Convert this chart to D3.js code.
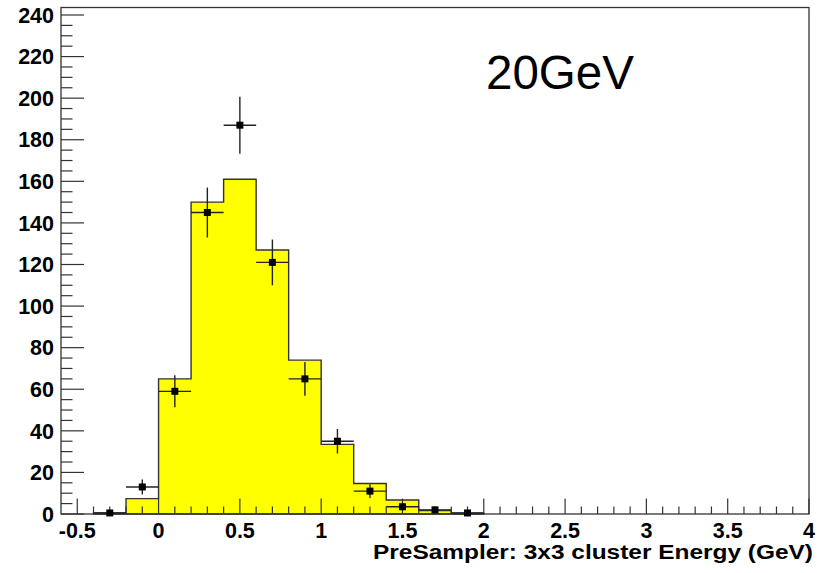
<!DOCTYPE html>
<html>
<head>
<meta charset="utf-8">
<script src="https://cdn.jsdelivr.net/npm/d3@7"></script>
<style>
    body { margin: 0; background: #fff; }
    text { font-family: "Liberation Sans", Arial, sans-serif; }
</style>
</head>
<body>
<div id="chart-area"></div>
<script>
const WIDTH = 830;
const HEIGHT = 573;

// bin lower edges (bin width 0.2 GeV)
const BIN_LOW = [-0.4, -0.2, 0.0, 0.2, 0.4, 0.6, 0.8, 1.0, 1.2, 1.4, 1.6, 1.8];
const BIN_WIDTH = 0.2;
// yellow histogram (simulation)
const MC_COUNTS = [0.5, 7.4, 65, 150, 161, 127, 74, 33.5, 14.7, 6.7, 1.7, 0.4];
// black points with error bars (data)
const DATA_COUNTS = [0.5, 13, 59, 145, 187, 121, 65, 35, 11, 3.5, 2, 0.5];
const DATA_ERRORS = [0, 3.6, 7.7, 12, 13.7, 11, 8.1, 5.9, 3.3, 1.9, 1.4, 0];

const X_TICKS = [-0.5, 0, 0.5, 1, 1.5, 2, 2.5, 3, 3.5, 4];
const X_TICK_LABELS = ["-0.5", "0", "0.5", "1", "1.5", "2", "2.5", "3", "3.5", "4"];
const Y_TICKS = [0, 20, 40, 60, 80, 100, 120, 140, 160, 180, 200, 220, 240];

const X_TITLE = "PreSampler: 3x3 cluster Energy (GeV)";
const LABEL = "20GeV";

const margin = {left: 61, right: 21, top: 7.5, bottom: 59};

let svg = d3.select("#chart-area")
    .append("svg")
    .attr("width", WIDTH)
    .attr("height", HEIGHT);

let x = d3.scaleLinear()
    .domain([-0.6, 4])
    .range([margin.left, WIDTH - margin.right]);

let y = d3.scaleLinear()
    .domain([0, 243.6])
    .range([HEIGHT - margin.bottom, margin.top]);

const LINE = "#333";

// histogram as a step outline
let histData = BIN_LOW.map((lo, i) => ({lo: lo, hi: lo + BIN_WIDTH, v: MC_COUNTS[i]}));
let pts = [[x(histData[0].lo), y(0)]];
histData.forEach(d => {
    pts.push([x(d.lo), y(d.v)]);
    pts.push([x(d.hi), y(d.v)]);
});
pts.push([x(histData[histData.length - 1].hi), y(0)]);

svg.append("path")
    .attr("d", d3.line()(pts) + "Z")
    .attr("fill", "#ffff00")
    .attr("stroke", LINE)
    .attr("stroke-width", 1.4);

// frame
svg.append("rect")
    .attr("x", x(-0.6))
    .attr("y", y(243.6))
    .attr("width", x(4) - x(-0.6))
    .attr("height", y(0) - y(243.6))
    .attr("fill", "none")
    .attr("stroke", LINE)
    .attr("stroke-width", 1.3);

// y ticks (major every 20, minor every 5) pointing inward
let yAxis = svg.append("g").attr("class", "y-axis");
yAxis.selectAll("line.minor")
    .data(y.ticks(48).filter(v => v <= 240))
    .enter()
    .append("line")
    .attr("class", "minor")
    .attr("x1", x(-0.6))
    .attr("x2", d => x(-0.6) + (d % 20 === 0 ? 23 : 11.5))
    .attr("y1", d => y(d))
    .attr("y2", d => y(d))
    .attr("stroke", LINE)
    .attr("stroke-width", 1.2);

yAxis.selectAll("text")
    .data(Y_TICKS)
    .enter()
    .append("text")
    .attr("x", x(-0.6) - 7)
    .attr("y", d => y(d))
    .attr("dy", "0.36em")
    .attr("text-anchor", "end")
    .style("font-size", "21.5px")
    .style("font-weight", "bold")
    .text(d => d);

// x ticks (major every 0.5, minor every 0.1) pointing up
let xAxis = svg.append("g").attr("class", "x-axis");
xAxis.selectAll("line")
    .data(d3.range(-5, 41))
    .enter()
    .append("line")
    .attr("x1", d => x(d / 10))
    .attr("x2", d => x(d / 10))
    .attr("y1", y(0))
    .attr("y2", d => y(0) - (d % 5 === 0 ? 15.5 : 7.5))
    .attr("stroke", LINE)
    .attr("stroke-width", 1.2);

xAxis.selectAll("text")
    .data(X_TICKS)
    .enter()
    .append("text")
    .attr("x", d => x(d))
    .attr("y", 538)
    .attr("text-anchor", "middle")
    .style("font-size", "21.5px")
    .style("font-weight", "bold")
    .text((d, i) => X_TICK_LABELS[i]);

svg.append("text")
    .attr("x", 373)
    .attr("y", 559)
    .attr("textLength", 440)
    .attr("lengthAdjust", "spacingAndGlyphs")
    .style("font-size", "20px")
    .style("font-weight", "bold")
    .text(X_TITLE);

// data points with error bars
let points = svg.append("g").attr("class", "points");
let dataPts = BIN_LOW.map((lo, i) => ({lo: lo, v: DATA_COUNTS[i], e: DATA_ERRORS[i]}));

points.selectAll("line.xerr")
    .data(dataPts)
    .enter()
    .append("line")
    .attr("class", "xerr")
    .attr("x1", d => x(d.lo))
    .attr("x2", d => x(d.lo + BIN_WIDTH))
    .attr("y1", d => y(d.v))
    .attr("y2", d => y(d.v))
    .attr("stroke", "#222")
    .attr("stroke-width", 1.4);

points.selectAll("line.yerr")
    .data(dataPts.filter(d => d.e > 0))
    .enter()
    .append("line")
    .attr("class", "yerr")
    .attr("x1", d => x(d.lo + BIN_WIDTH / 2))
    .attr("x2", d => x(d.lo + BIN_WIDTH / 2))
    .attr("y1", d => y(d.v - d.e))
    .attr("y2", d => y(d.v + d.e))
    .attr("stroke", "#222")
    .attr("stroke-width", 1.4);

points.selectAll("rect")
    .data(dataPts)
    .enter()
    .append("rect")
    .attr("x", d => x(d.lo + BIN_WIDTH / 2) - 3.5)
    .attr("y", d => y(d.v) - 3.5)
    .attr("width", 7)
    .attr("height", 7)
    .attr("fill", "#000");

svg.append("text")
    .attr("x", 486)
    .attr("y", 89)
    .style("font-size", "47.5px")
    .text(LABEL);
</script>
</body>
</html>
